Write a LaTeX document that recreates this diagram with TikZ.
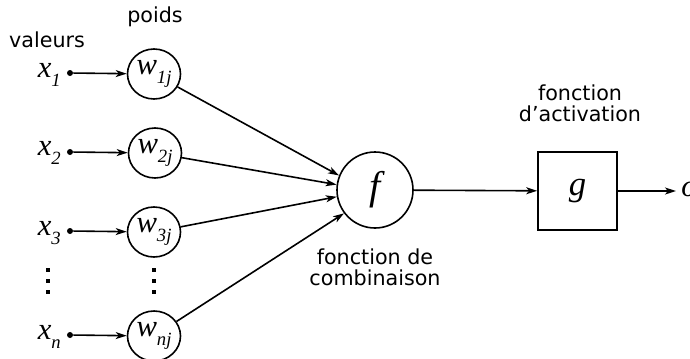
\documentclass[tikz,border=0pt]{standalone}
\usepackage{fontspec}
\setmainfont{DejaVu Sans}
\newfontfamily\tms{Liberation Serif}
\usetikzlibrary{arrows.meta,shapes.geometric}
\newcommand{\lowsub}[1]{\raisebox{-0.3em}{\fontsize{14}{14}\selectfont #1}}
\begin{document}
\begin{tikzpicture}[x=0.75pt,y=-0.75pt,
  lbl/.style={font=\fontsize{15.5}{15.5}\selectfont, align=center, inner sep=0pt},
  var/.style={font=\tms\itshape\fontsize{23}{23}\selectfont, inner sep=0pt, anchor=base east,
              text height=11pt, text depth=4pt},
  wt/.style={draw, line width=1.2pt, ellipse, minimum width=53*0.75pt, minimum height=50*0.75pt, inner sep=0pt,
             font=\tms\itshape\fontsize{23}{23}\selectfont},
  pt/.style={circle, fill, inner sep=0pt, minimum size=6*0.75pt},
  arr/.style={line width=1.2pt, -{Stealth[length=11*0.75pt, width=7*0.75pt, inset=3*0.75pt]}},
  vd/.style={fill, minimum size=3.5*0.75pt, inner sep=0pt}
]
\useasboundingbox (0,0) rectangle (690,358);

% headers
\node[lbl] (hval) at (47,40) {valeurs};
\node[lbl] (hpoids) at (155,17) {poids};

% inputs
\node[var] (x1) at (61,77) {x\lowsub{1}};
\node[var] (x2) at (61,155) {x\lowsub{2}};
\node[var] (x3) at (61,235) {x\lowsub{3}};
\node[var] (xn) at (61,339) {x\lowsub{n}};

\node[pt] (d1) at (70,73) {};
\node[pt] (d2) at (70,152) {};
\node[pt] (d3) at (70,231) {};
\node[pt] (dn) at (70,335) {};

% weights
\node[wt] (w1) at (154,74) {w\lowsub{1j}};
\node[wt] (w2) at (155,153) {w\lowsub{2j}};
\node[wt] (w3) at (154,232) {w\lowsub{3j}};
\node[wt] (wn) at (154,336) {w\lowsub{nj}};

% vertical dots
\foreach \yy [count=\i] in {270,281,292} {
  \node[vd] (va\i) at (48,\yy) {};
  \node[vd] (vb\i) at (154,\yy) {};
}

\draw[arr] (d1) -- (w1);
\draw[arr] (d2) -- (w2);
\draw[arr] (d3) -- (w3);
\draw[arr] (dn) -- (wn);

% combination
\node[draw, circle, line width=1.2pt, minimum size=76*0.75pt, inner sep=0pt,
      font=\tms\itshape\fontsize{30}{30}\selectfont] (f) at (375,190) {f};
\node[lbl] (lf) at (375,267) {fonction de\\combinaison};

\draw[arr] (w1) -- (f.158);
\draw[arr] (w2) -- (f.172);
\draw[arr] (w3) -- (f.190);
\draw[arr] (wn) -- (f.217);

% activation
\node[draw, line width=1.2pt, minimum width=79*0.75pt, minimum height=78*0.75pt, inner sep=0pt,
      font=\tms\itshape\fontsize{26}{26}\selectfont] (g) at (577.5,191) {g};
\node[lbl] (lg) at (580,103) {fonction\\d’activation};

\draw[arr] (f) -- (g);

\node[font=\tms\itshape\fontsize{23}{23}\selectfont, inner sep=0pt, anchor=west] (o) at (681,189) {o};
\coordinate (oe) at (676,191);
\draw[arr] (g.east |- oe) -- (oe);
\end{tikzpicture}
\end{document}
